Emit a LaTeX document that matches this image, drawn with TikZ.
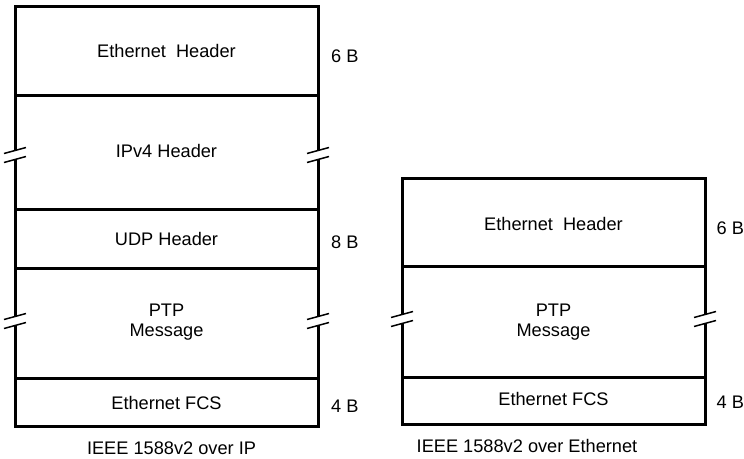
\documentclass[tikz,border=0pt]{standalone}
\usepackage{fontspec}
\setmainfont{Liberation Sans}
\begin{document}
\begin{tikzpicture}[x=1pt,y=-1pt,
  frame/.style={line width=3pt,line join=miter},
  brk/.style={line width=1.5pt},
  lbl/.style={font=\fontsize{18.2}{20.5}\selectfont,align=center,inner sep=0pt},
  sizelbl/.style={lbl,anchor=west}]
\useasboundingbox (0,0) rectangle (744,458);
% ---------- left stack ----------
\def\xl{15}\def\xr{318}
\draw[frame] (\xl,150.5) -- (\xl,6) -- (\xr,6) -- (\xr,150.5);
\draw[frame] (\xl,159.5) -- (\xl,316.5);
\draw[frame] (\xr,159.5) -- (\xr,316.5);
\draw[frame] (\xl,325.5) -- (\xl,426) -- (\xr,426) -- (\xr,325.5);
\foreach \y in {95,209,268,378} \draw[frame] (\xl,\y) -- (\xr,\y);
\foreach \x in {\xl,\xr}{
  \foreach \c in {155,321}{
    \draw[brk] (\x-11,\c-1.5) -- (\x+11,\c-7.5);
    \draw[brk] (\x-11,\c+7.5) -- (\x+11,\c+1.5);
  }
}
\node[lbl] (eth1) at (166.5,51) {Ethernet~~Header};
\node[lbl] (ip) at (166.5,151) {IPv4 Header};
\node[lbl] (udp) at (166.5,238.5) {UDP Header};
\node[lbl] (ptp1) at (166.5,322) {PTP\\Message};
\node[lbl] (fcs1) at (166.5,403) {Ethernet FCS};
\node[sizelbl] (s6a) at (331,56) {6 B};
\node[sizelbl] (s8a) at (331,242.5) {8 B};
\node[sizelbl] (s4a) at (331,406) {4 B};
\node[lbl] (cap1) at (171.5,448) {IEEE 1588v2 over IP};
% ---------- right stack ----------
\def\xL{402}\def\xR{705}
\draw[frame] (\xL,314.5) -- (\xL,178) -- (\xR,178) -- (\xR,314.5);
\draw[frame] (\xL,323.5) -- (\xL,424) -- (\xR,424) -- (\xR,323.5);
\foreach \y in {266,377} \draw[frame] (\xL,\y) -- (\xR,\y);
\foreach \x in {\xL,\xR}{
  \draw[brk] (\x-11,319-1.5) -- (\x+11,319-7.5);
  \draw[brk] (\x-11,319+7.5) -- (\x+11,319+1.5);
}
\node[lbl] (eth2) at (553.5,224) {Ethernet~~Header};
\node[lbl] (ptp2) at (553.5,322) {PTP\\Message};
\node[lbl] (fcs2) at (553.5,398.5) {Ethernet FCS};
\node[sizelbl] (s6b) at (716.5,228.5) {6 B};
\node[sizelbl] (s4b) at (716.5,402.5) {4 B};
\node[lbl] (cap2) at (527,446) {IEEE 1588v2 over Ethernet};
\end{tikzpicture}
\end{document}
